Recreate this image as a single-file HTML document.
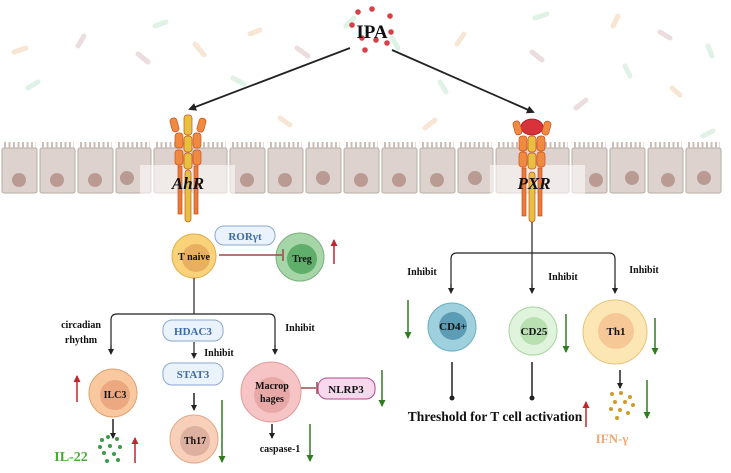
<!DOCTYPE html>
<html><head><meta charset="utf-8"><style>
html,body{margin:0;padding:0;background:#fff;}
svg{display:block;font-family:"Liberation Serif",serif;font-weight:bold;}
</style></head><body>
<svg width="731" height="473" viewBox="0 0 731 473" xmlns="http://www.w3.org/2000/svg">
<defs>
<marker id="ah" markerWidth="8" markerHeight="8" refX="6" refY="4" orient="auto" markerUnits="userSpaceOnUse"><path d="M0,0 L8,4 L0,8 Z" fill="#222"/></marker>
<marker id="ahs" markerWidth="6" markerHeight="6" refX="5" refY="3" orient="auto" markerUnits="userSpaceOnUse"><path d="M0,0 L6,3 L0,6 Z" fill="#222"/></marker>
<marker id="ar" markerWidth="7" markerHeight="7" refX="6" refY="3.5" orient="auto" markerUnits="userSpaceOnUse"><path d="M0,0 L7,3.5 L0,7 Z" fill="#c0262d"/></marker>
<marker id="ag" markerWidth="7" markerHeight="7" refX="6" refY="3.5" orient="auto" markerUnits="userSpaceOnUse"><path d="M0,0 L7,3.5 L0,7 Z" fill="#2e7d1f"/></marker>
</defs>
<!-- bacteria -->
<g stroke-linecap="round" stroke-width="5" opacity="0.55">
<line x1="14" y1="52" x2="26" y2="48" stroke="#f0d2b0"/>
<line x1="78" y1="46" x2="84" y2="36" stroke="#dcc0c4"/>
<line x1="155" y1="26" x2="166" y2="22" stroke="#c8e6d0"/>
<line x1="138" y1="54" x2="148" y2="62" stroke="#dcc0c4"/>
<line x1="195" y1="44" x2="204" y2="55" stroke="#f0d2b0"/>
<line x1="250" y1="34" x2="260" y2="30" stroke="#f0d2b0"/>
<line x1="297" y1="48" x2="308" y2="56" stroke="#dcc0c4"/>
<line x1="28" y1="88" x2="38" y2="82" stroke="#c8e6d0"/>
<line x1="233" y1="78" x2="244" y2="84" stroke="#c8e6d0"/>
<line x1="280" y1="118" x2="290" y2="125" stroke="#f0d2b0"/>
<line x1="346" y1="26" x2="354" y2="18" stroke="#c8e6d0"/>
<line x1="392" y1="38" x2="398" y2="48" stroke="#c8e6d0"/>
<line x1="440" y1="82" x2="446" y2="92" stroke="#c8e6d0"/>
<line x1="425" y1="128" x2="435" y2="120" stroke="#f0d2b0"/>
<line x1="457" y1="44" x2="464" y2="34" stroke="#f0d2b0"/>
<line x1="535" y1="18" x2="547" y2="14" stroke="#c8e6d0"/>
<line x1="532" y1="52" x2="542" y2="60" stroke="#dcc0c4"/>
<line x1="576" y1="108" x2="586" y2="100" stroke="#dcc0c4"/>
<line x1="613" y1="26" x2="618" y2="16" stroke="#f0d2b0"/>
<line x1="625" y1="66" x2="630" y2="76" stroke="#c8e6d0"/>
<line x1="660" y1="32" x2="670" y2="38" stroke="#dcc0c4"/>
<line x1="672" y1="88" x2="680" y2="95" stroke="#f0d2b0"/>
<line x1="708" y1="46" x2="712" y2="56" stroke="#c8e6d0"/>
<line x1="703" y1="136" x2="713" y2="131" stroke="#c8e6d0"/>
</g>
<!-- cells -->
<g fill="#ddd2cd" stroke="#b9aca6" stroke-width="1">
<rect x="2" y="148" width="35" height="45" rx="2"/><rect x="40" y="148" width="35" height="45" rx="2"/><rect x="78" y="148" width="35" height="45" rx="2"/><rect x="116" y="148" width="35" height="45" rx="2"/><rect x="154" y="148" width="35" height="45" rx="2"/><rect x="192" y="148" width="35" height="45" rx="2"/><rect x="230" y="148" width="35" height="45" rx="2"/><rect x="268" y="148" width="35" height="45" rx="2"/><rect x="306" y="148" width="35" height="45" rx="2"/><rect x="344" y="148" width="35" height="45" rx="2"/><rect x="382" y="148" width="35" height="45" rx="2"/><rect x="420" y="148" width="35" height="45" rx="2"/><rect x="458" y="148" width="35" height="45" rx="2"/><rect x="496" y="148" width="35" height="45" rx="2"/><rect x="534" y="148" width="35" height="45" rx="2"/><rect x="572" y="148" width="35" height="45" rx="2"/><rect x="610" y="148" width="35" height="45" rx="2"/><rect x="648" y="148" width="35" height="45" rx="2"/><rect x="686" y="148" width="35" height="45" rx="2"/>
</g>
<g stroke="#cbbdb7" stroke-width="6" stroke-dasharray="2 2.5">
<line x1="4" y1="145" x2="36" y2="145"/><line x1="42" y1="145" x2="74" y2="145"/><line x1="80" y1="145" x2="112" y2="145"/><line x1="118" y1="145" x2="150" y2="145"/><line x1="156" y1="145" x2="188" y2="145"/><line x1="194" y1="145" x2="226" y2="145"/><line x1="232" y1="145" x2="264" y2="145"/><line x1="270" y1="145" x2="302" y2="145"/><line x1="308" y1="145" x2="340" y2="145"/><line x1="346" y1="145" x2="378" y2="145"/><line x1="384" y1="145" x2="416" y2="145"/><line x1="422" y1="145" x2="454" y2="145"/><line x1="460" y1="145" x2="492" y2="145"/><line x1="498" y1="145" x2="530" y2="145"/><line x1="536" y1="145" x2="568" y2="145"/><line x1="574" y1="145" x2="606" y2="145"/><line x1="612" y1="145" x2="644" y2="145"/><line x1="650" y1="145" x2="682" y2="145"/><line x1="688" y1="145" x2="720" y2="145"/>
</g>
<g fill="#b99b93">
<circle cx="19" cy="180" r="7"/><circle cx="57" cy="180" r="7"/><circle cx="95" cy="180" r="7"/><circle cx="127" cy="178" r="7"/><circle cx="247" cy="180" r="7"/><circle cx="285" cy="180" r="7"/><circle cx="323" cy="178" r="7"/><circle cx="361" cy="180" r="7"/><circle cx="399" cy="180" r="7"/><circle cx="437" cy="180" r="7"/><circle cx="475" cy="178" r="7"/><circle cx="596" cy="180" r="7"/><circle cx="632" cy="178" r="7"/><circle cx="668" cy="180" r="7"/><circle cx="704" cy="178" r="7"/>
</g>
<rect x="140" y="165" width="95" height="30" fill="#fff" opacity="0.55"/>
<rect x="490" y="165" width="95" height="30" fill="#fff" opacity="0.55"/>
<!-- AhR receptor -->
<g stroke="#c8501f" stroke-width="0.7">
<rect x="184" y="115" width="8" height="20" rx="3" fill="#e8c040"/>
<rect x="184" y="136" width="8" height="16" rx="3" fill="#e8c040"/>
<rect x="184" y="153" width="8" height="16" rx="3" fill="#e8c040"/>
<rect x="171" y="118" width="7" height="14" rx="3" fill="#f08a40" transform="rotate(-15 174 125)"/>
<rect x="198" y="118" width="7" height="14" rx="3" fill="#f08a40" transform="rotate(15 201 125)"/>
<rect x="175" y="133" width="8" height="15" rx="3" fill="#f08a40"/>
<rect x="193" y="133" width="8" height="15" rx="3" fill="#f08a40"/>
<rect x="175" y="150" width="8" height="15" rx="3" fill="#f08a40"/>
<rect x="193" y="150" width="8" height="15" rx="3" fill="#f08a40"/>
<rect x="178" y="166" width="4" height="48" fill="#e87a3a"/>
<rect x="194" y="166" width="4" height="48" fill="#e87a3a"/>
<rect x="185" y="170" width="6" height="52" rx="3" fill="#e8c040"/>
</g>
<!-- PXR receptor -->
<g stroke="#c8501f" stroke-width="0.7">
<ellipse cx="532" cy="127" rx="11" ry="8" fill="#d8323a" stroke="#a01820"/>
<rect x="528" y="136" width="8" height="16" rx="3" fill="#e8c040"/>
<rect x="528" y="153" width="8" height="16" rx="3" fill="#e8c040"/>
<rect x="514" y="121" width="7" height="14" rx="3" fill="#f08a40" transform="rotate(-15 517 128)"/>
<rect x="543" y="121" width="7" height="14" rx="3" fill="#f08a40" transform="rotate(15 546 128)"/>
<rect x="519" y="136" width="8" height="15" rx="3" fill="#f08a40"/>
<rect x="537" y="136" width="8" height="15" rx="3" fill="#f08a40"/>
<rect x="519" y="152" width="8" height="15" rx="3" fill="#f08a40"/>
<rect x="537" y="152" width="8" height="15" rx="3" fill="#f08a40"/>
<rect x="522" y="168" width="4" height="48" fill="#e87a3a"/>
<rect x="538" y="168" width="4" height="48" fill="#e87a3a"/>
<rect x="529" y="172" width="6" height="50" rx="3" fill="#e8c040"/>
</g>
<text x="188" y="189" font-size="17" font-style="italic" text-anchor="middle" fill="#111">AhR</text>
<text x="534" y="189" font-size="17" font-style="italic" text-anchor="middle" fill="#111">PXR</text>
<!-- IPA -->
<g fill="#d84048">
<circle cx="358" cy="12" r="2.8"/><circle cx="372" cy="9" r="2.8"/><circle cx="390" cy="16" r="2.8"/><circle cx="352" cy="25" r="2.8"/><circle cx="391" cy="32" r="2.8"/><circle cx="362" cy="38" r="2.8"/><circle cx="376" cy="40" r="2.8"/><circle cx="387" cy="43" r="2.8"/><circle cx="365" cy="50" r="2.8"/>
</g>
<text x="372" y="38" font-size="19" text-anchor="middle" fill="#111">IPA</text>
<line x1="350" y1="48" x2="190" y2="109" stroke="#222" stroke-width="1.8" marker-end="url(#ah)"/>
<line x1="392" y1="50" x2="533" y2="112" stroke="#222" stroke-width="1.8" marker-end="url(#ah)"/>
<!-- left lower -->
<g font-size="10" fill="#111" text-anchor="middle">
<circle cx="194" cy="256" r="22" fill="#f9d27a" stroke="#e3ad4a"/>
<circle cx="196" cy="258" r="14" fill="#e8b060"/>
<text x="194" y="260" font-size="10">T naive</text>
<rect x="215" y="226" width="60" height="19" rx="9" fill="#eaf2fb" stroke="#8aa8cc"/>
<text x="245" y="240" fill="#3d6aa8" font-size="11">RORγt</text>
<circle cx="300" cy="257" r="24" fill="#a6d6a8" stroke="#7ab07c"/>
<circle cx="302" cy="259" r="15" fill="#5fae6a"/>
<text x="302" y="262">Treg</text>
<line x1="219" y1="255" x2="282" y2="255" stroke="#9a4a48" stroke-width="1.5"/>
<line x1="283" y1="249" x2="283" y2="261" stroke="#9a4a48" stroke-width="1.5"/>
<line x1="334" y1="264" x2="334" y2="240" stroke="#c0262d" stroke-width="1.5" marker-end="url(#ar)"/>

<path d="M194,278 V314 M111,353 V320 Q111,314 117,314 H269 Q275,314 275,320 V353" fill="none" stroke="#222" stroke-width="1.2"/>
<line x1="111" y1="345" x2="111" y2="354" stroke="#222" stroke-width="1.2" marker-end="url(#ahs)"/>
<line x1="275" y1="345" x2="275" y2="354" stroke="#222" stroke-width="1.2" marker-end="url(#ahs)"/>
<text x="81" y="328">circadian</text>
<text x="81" y="343">rhythm</text>
<text x="300" y="331">Inhibit</text>
<rect x="163" y="320" width="60" height="21" rx="9" fill="#eaf2fb" stroke="#8aa8cc"/>
<text x="193" y="335" fill="#3d6aa8" font-size="11">HDAC3</text>
<line x1="194" y1="342" x2="194" y2="358" stroke="#222" stroke-width="1.2" marker-end="url(#ahs)"/>
<text x="219" y="356">Inhibit</text>
<rect x="163" y="363" width="60" height="22" rx="9" fill="#eaf2fb" stroke="#8aa8cc"/>
<text x="193" y="378" fill="#3d6aa8" font-size="11">STAT3</text>
<line x1="194" y1="393" x2="194" y2="410" stroke="#222" stroke-width="1.5" marker-end="url(#ahs)"/>
<circle cx="194" cy="439" r="24" fill="#f8cfb8" stroke="#e0a888"/>
<circle cx="195" cy="441" r="15" fill="#deb0a0"/>
<text x="195" y="444">Th17</text>
<line x1="222" y1="400" x2="222" y2="462" stroke="#2e7d1f" stroke-width="1.5" marker-end="url(#ag)"/>

<circle cx="113" cy="393" r="24" fill="#f9c89e" stroke="#e0a070"/>
<circle cx="115" cy="395" r="15" fill="#eca880"/>
<text x="115" y="398">ILC3</text>
<line x1="77" y1="402" x2="77" y2="376" stroke="#c0262d" stroke-width="1.5" marker-end="url(#ar)"/>
<line x1="113" y1="419" x2="113" y2="438" stroke="#222" stroke-width="1.5" marker-end="url(#ahs)"/>
<text x="71" y="461" font-size="14" fill="#4caa3a">IL-22</text>
<g fill="#3c9a4a"><circle cx="102" cy="440" r="2"/><circle cx="108" cy="437" r="2"/><circle cx="117" cy="439" r="2"/><circle cx="100" cy="447" r="2"/><circle cx="110" cy="446" r="2"/><circle cx="120" cy="447" r="2"/><circle cx="104" cy="453" r="2"/><circle cx="114" cy="454" r="2"/><circle cx="107" cy="461" r="2"/><circle cx="118" cy="460" r="2"/></g>
<line x1="135" y1="463" x2="135" y2="438" stroke="#c0262d" stroke-width="1.5" marker-end="url(#ar)"/>

<circle cx="271" cy="392" r="30" fill="#f6c4c4" stroke="#e09a9a"/>
<circle cx="272" cy="395" r="18" fill="#e8a8a8"/>
<text x="272" y="389">Macrop</text>
<text x="272" y="402">hages</text>
<line x1="301" y1="388" x2="316" y2="388" stroke="#9a4a48" stroke-width="1.5"/>
<line x1="317" y1="382" x2="317" y2="394" stroke="#9a4a48" stroke-width="1.5"/>
<rect x="318" y="378" width="57" height="21" rx="9" fill="#f8d8ec" stroke="#b04a8a"/>
<text x="346" y="393" font-size="11">NLRP3</text>
<line x1="382" y1="370" x2="382" y2="406" stroke="#2e7d1f" stroke-width="1.5" marker-end="url(#ag)"/>
<line x1="272" y1="424" x2="272" y2="438" stroke="#222" stroke-width="1.5" marker-end="url(#ahs)"/>
<text x="280" y="452">caspase-1</text>
<line x1="310" y1="424" x2="310" y2="461" stroke="#2e7d1f" stroke-width="1.5" marker-end="url(#ag)"/>

<!-- right -->
<path d="M532,222 V292 M451,292 V259 Q451,253 457,253 H609 Q615,253 615,259 V292" fill="none" stroke="#222" stroke-width="1.2"/>
<line x1="451" y1="284" x2="451" y2="293" stroke="#222" stroke-width="1.2" marker-end="url(#ahs)"/>
<line x1="532" y1="284" x2="532" y2="293" stroke="#222" stroke-width="1.2" marker-end="url(#ahs)"/>
<line x1="615" y1="284" x2="615" y2="293" stroke="#222" stroke-width="1.2" marker-end="url(#ahs)"/>
<text x="422" y="275">Inhibit</text>
<text x="563" y="280">Inhibit</text>
<text x="644" y="273">Inhibit</text>
<circle cx="452" cy="327" r="24" fill="#9fd0de" stroke="#6aaec2"/>
<circle cx="453" cy="326" r="14" fill="#5c9cb4"/>
<text x="453" y="330" font-size="11">CD4+</text>
<circle cx="533" cy="331" r="24" fill="#e0f3dc" stroke="#a8d4a0"/>
<circle cx="534" cy="331" r="14" fill="#b8e0b0"/>
<text x="534" y="335" font-size="11">CD25</text>
<circle cx="615" cy="332" r="32" fill="#fbe6b4" stroke="#e6c47a"/>
<circle cx="616" cy="331" r="18" fill="#f5c896"/>
<text x="616" y="335" font-size="11">Th1</text>
<line x1="408" y1="300" x2="408" y2="338" stroke="#2e7d1f" stroke-width="1.5" marker-end="url(#ag)"/>
<line x1="566" y1="314" x2="566" y2="352" stroke="#2e7d1f" stroke-width="1.5" marker-end="url(#ag)"/>
<line x1="655" y1="318" x2="655" y2="354" stroke="#2e7d1f" stroke-width="1.5" marker-end="url(#ag)"/>
<line x1="452" y1="362" x2="452" y2="398" stroke="#222" stroke-width="1.5"/><circle cx="452" cy="398" r="2.5" fill="#222"/>
<line x1="532" y1="362" x2="532" y2="398" stroke="#222" stroke-width="1.5"/><circle cx="532" cy="398" r="2.5" fill="#222"/>
<text x="495" y="421" font-size="13.5">Threshold for T cell activation</text>
<line x1="586" y1="427" x2="586" y2="402" stroke="#c0262d" stroke-width="1.5" marker-end="url(#ar)"/>
<line x1="620" y1="370" x2="620" y2="388" stroke="#222" stroke-width="1.5" marker-end="url(#ahs)"/>
<g fill="#d49a28"><circle cx="612" cy="394" r="2"/><circle cx="621" cy="393" r="2"/><circle cx="630" cy="397" r="2"/><circle cx="615" cy="402" r="2"/><circle cx="625" cy="402" r="2"/><circle cx="633" cy="405" r="2"/><circle cx="611" cy="409" r="2"/><circle cx="620" cy="410" r="2"/><circle cx="628" cy="413" r="2"/><circle cx="617" cy="418" r="2"/></g>
<line x1="647" y1="380" x2="647" y2="418" stroke="#2e7d1f" stroke-width="1.5" marker-end="url(#ag)"/>
<text x="612" y="443" font-size="13" fill="#f0a870">IFN-γ</text>
</g>
</svg>
</body></html>
